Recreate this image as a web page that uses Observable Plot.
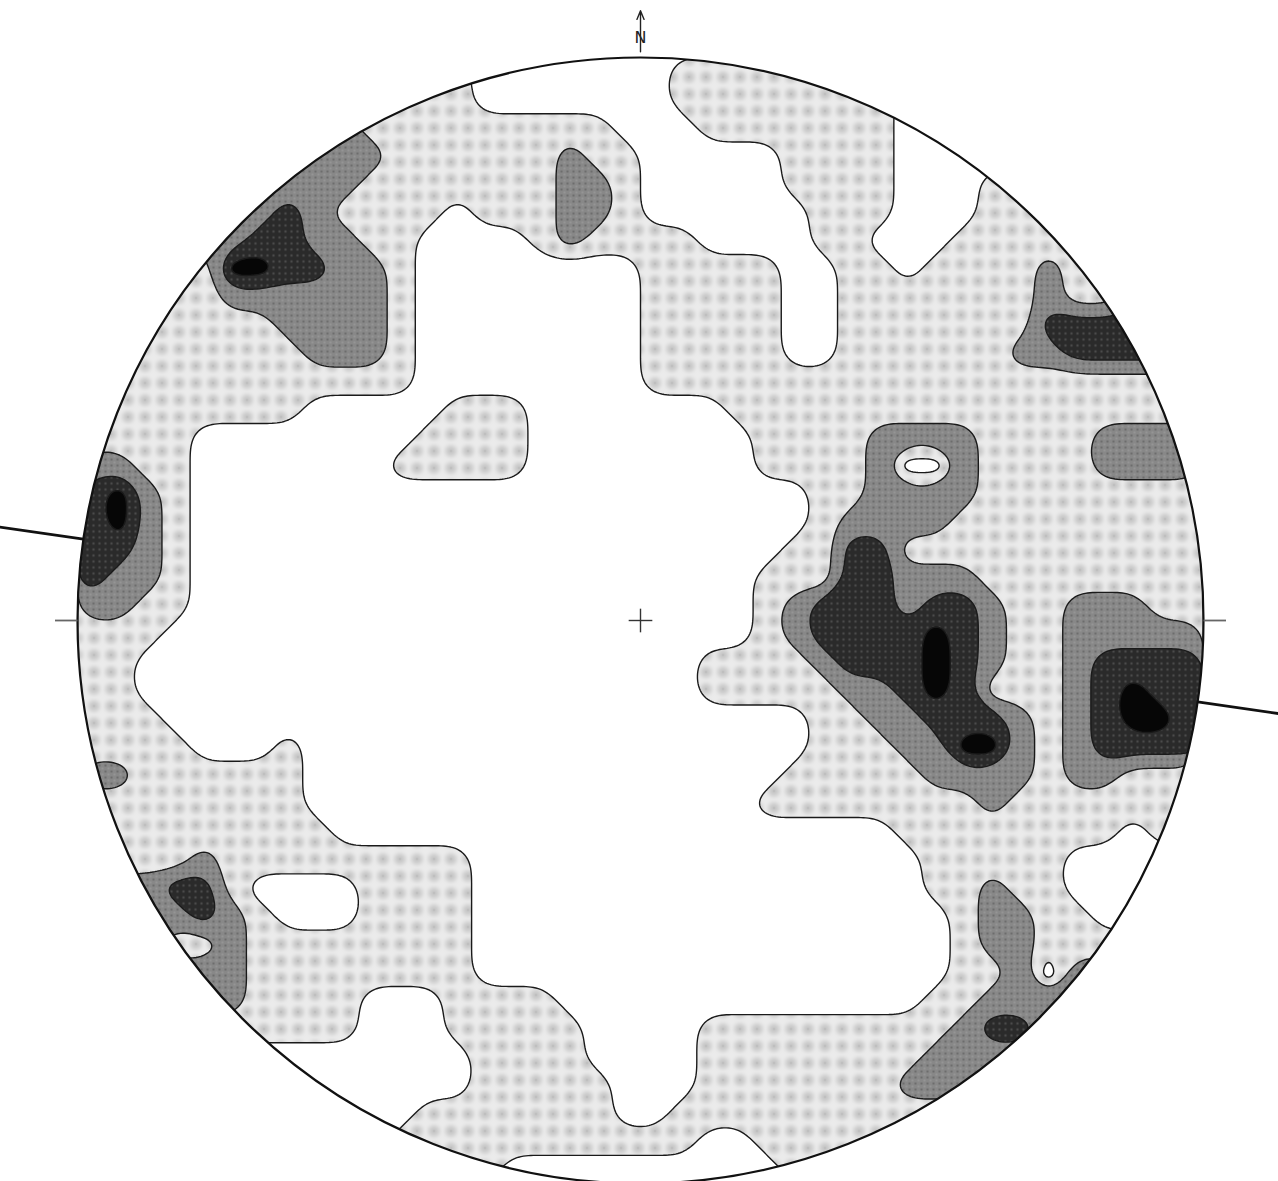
<!DOCTYPE html>
<html>
<head>
<meta charset="utf-8">
<script src="https://cdn.jsdelivr.net/npm/d3@7"></script>
<script src="https://cdn.jsdelivr.net/npm/@observablehq/plot@0.6"></script>
<style>
  html, body { margin: 0; padding: 0; background: #ffffff; }
  #chart { width: 1278px; height: 1181px; overflow: hidden; }
</style>
</head>
<body>
<div id="chart"></div>
<script>
// Pole-density grid (40 x 40 cells, row 0 = north edge).
// 0 = white (< lowest contour), 1 = light stipple, 2 = grey, 3 = dark, 4 = black.
const densityRows = [
  "1111111111 1111000000 0111111111 1111111111",
  "1111111111 1111000000 0111111110 0001111111",
  "1111111122 1111111110 0011111110 0000111111",
  "1111111222 2111111211 0000011110 0000111111",
  "1111112222 1111111221 0000011110 0011111111",
  "1111122321 1110111221 0000001110 0011111111",
  "1111223322 1100001211 1100001100 0111111111",
  "1111144332 2100000000 1111100110 1111211111",
  "1111122222 2100000000 1111100111 1111211222",
  "1111111222 2100000000 1111100111 1111333333",
  "1111111122 2100000000 1111100111 1112233333",
  "1111111111 1100000000 1111111111 1111111111",
  "1111111100 0001110000 0001111111 1111111111",
  "1111000000 0011110000 0000111122 2211112222",
  "2211000000 0111110000 0000111120 0211112222",
  "3421000000 0000000000 0000001122 2211111111",
  "3421000000 0000000000 0000001222 2111111111",
  "3321000000 0000000000 0000011331 1111111111",
  "3221000000 0000000000 0000111332 2211111111",
  "2211000000 0000000000 0000123332 3321122211",
  "1110000000 0000000000 0000123333 4321122222",
  "1100000000 0000000000 0011112333 4321123333",
  "1100000000 0000000000 0011111223 4311123433",
  "1110000000 0000000000 0000001122 3332123443",
  "1111000100 0000000000 0000001112 2442123333",
  "2211111100 0000000000 0000011111 2222122111",
  "1111111100 0000000000 0000111111 1121111111",
  "1111111110 0000000000 0000000001 1111111011",
  "1111211111 1111000000 0000000000 1111100000",
  "2223310000 1111000000 0000000000 1121100000",
  "2222321000 1111000000 0000000000 0122110000",
  "2221121111 1111000000 0000000000 0122111111",
  "2222221111 1111000000 0000000000 0112022222",
  "2222221111 0001111000 0000000000 1122222222",
  "1111111111 0001111100 0011111111 1233222222",
  "0000000000 0000111100 0011111111 2222222222",
  "0000000000 0000111110 0011111112 2222222222",
  "0000000000 0011111110 0111111111 1111111111",
  "0000000000 0111111111 1100111111 1111111111",
  "1111111111 1111100000 0000011111 1111111111"
];
const contourLevels = [0.5, 1.5, 2.5, 3.5];
const levelFills = ["url(#pat-light)", "url(#pat-mid)", "url(#pat-dark)", "#060606"];

// Annotations in net units (radius 1 = primitive circle), azimuth clockwise from north.
const netCentre = [{az: 0, r: 0}];
const centreCross = [{az: 90, r: 0.021}, {az: 0, r: 0.021}];
const eastWestTicks = [{az: 90, r0: 1.0, r1: 1.04}, {az: 270, r0: 1.0, r1: 1.04}];
const foliationTrace = [{az: 98.3, r0: 1.0, r1: 1.17}, {az: 278.3, r0: 1.0, r1: 1.15}];
const northArrow = [{az: 0, r0: 1.01, r1: 1.083}];
const northLabel = [{az: 0, r: 1.034, text: "N"}];

// Layout
const W = 1278, H = 1181, ML = 77, MR = 75, MT = 57, MB = 0;
const N = 40;
const px = (W - ML - MR) / N;
const yMax = (H - MT - MB) / px;
const C = N / 2, R = N / 2;
const gx = (az, r) => C + R * r * Math.sin(az * Math.PI / 180);
const gy = (az, r) => C - R * r * Math.cos(az * Math.PI / 180);

const values = densityRows
  .map(r => r.replace(/\s/g, ""))
  .flatMap(r => Array.from(r, Number));

const contourMarks = contourLevels.map((t, i) =>
  Plot.contour(values, {
    width: N, height: N, x1: 0, y1: 0, x2: N, y2: N,
    thresholds: [t],
    fill: levelFills[i],
    stroke: "#1a1a1a",
    strokeWidth: 1.4
  })
);

const plot = Plot.plot({
  width: W, height: H,
  marginLeft: ML, marginRight: MR, marginTop: MT, marginBottom: MB,
  x: {domain: [0, N], axis: null},
  y: {domain: [0, yMax], reverse: true, axis: null},
  style: {background: "#ffffff", overflow: "visible"},
  marks: [
    ...contourMarks,
    Plot.dot(netCentre, {x: d => gx(d.az, d.r), y: d => gy(d.az, d.r), r: R * px, fill: "none", stroke: "#111", strokeWidth: 2.2}),
    Plot.link(centreCross, {x1: d => gx(d.az, -d.r), y1: d => gy(d.az, -d.r), x2: d => gx(d.az, d.r), y2: d => gy(d.az, d.r), stroke: "#333", strokeWidth: 1.4}),
    Plot.link(eastWestTicks, {x1: d => gx(d.az, d.r0), y1: d => gy(d.az, d.r0), x2: d => gx(d.az, d.r1), y2: d => gy(d.az, d.r1), stroke: "#666", strokeWidth: 1.8}),
    Plot.link(foliationTrace, {x1: d => gx(d.az, d.r0), y1: d => gy(d.az, d.r0), x2: d => gx(d.az, d.r1), y2: d => gy(d.az, d.r1), stroke: "#111", strokeWidth: 2.8}),
    Plot.arrow(northArrow, {x1: d => gx(d.az, d.r0), y1: d => gy(d.az, d.r0), x2: d => gx(d.az, d.r1), y2: d => gy(d.az, d.r1), stroke: "#222", strokeWidth: 1.4, headLength: 10, headAngle: 45, insetStart: 0, insetEnd: 0}),
    Plot.text(northLabel, {x: d => gx(d.az, d.r), y: d => gy(d.az, d.r), text: "text", fontSize: 16, fontFamily: "DejaVu Sans, sans-serif", fill: "#222"})
  ]
});

// Patterns and circular clip
const svgNS = "http://www.w3.org/2000/svg";
const svg = plot.tagName.toLowerCase() === "svg" ? plot : plot.querySelector("svg");
const xs = plot.scale("x"), ys = plot.scale("y");
const cxp = xs.apply(C), cyp = ys.apply(C), rp = xs.apply(C + R) - xs.apply(C);
const defs = document.createElementNS(svgNS, "defs");
defs.innerHTML = `
  <filter id="soft" x="-50%" y="-50%" width="200%" height="200%"><feGaussianBlur stdDeviation="2.2"/></filter>
  <pattern id="pat-light" patternUnits="userSpaceOnUse" width="17" height="17">
    <rect width="17" height="17" fill="#ebebeb"/>
    <circle cx="8.5" cy="8.5" r="5.6" fill="#c6c6c6" filter="url(#soft)"/>
    <circle cx="8.5" cy="8.5" r="0.9" fill="#b4b4b4"/>
  </pattern>
  <pattern id="pat-mid" patternUnits="userSpaceOnUse" width="6" height="6">
    <rect width="6" height="6" fill="#888888"/>
    <circle cx="3" cy="3" r="1.1" fill="#666666"/>
    <circle cx="0" cy="0" r="0.8" fill="#a6a6a6"/><circle cx="6" cy="0" r="0.8" fill="#a6a6a6"/>
    <circle cx="0" cy="6" r="0.8" fill="#a6a6a6"/><circle cx="6" cy="6" r="0.8" fill="#a6a6a6"/>
  </pattern>
  <pattern id="pat-dark" patternUnits="userSpaceOnUse" width="6" height="6">
    <rect width="6" height="6" fill="#2a2a2a"/>
    <circle cx="3" cy="3" r="1.2" fill="#4c4c4c"/>
  </pattern>
  <clipPath id="net-clip" clipPathUnits="userSpaceOnUse">
    <circle cx="${cxp}" cy="${cyp}" r="${rp}"/>
  </clipPath>`;
svg.insertBefore(defs, svg.firstChild);

// Round the marching-squares outlines: corner cutting, uniform resampling, moving average.
function chaikin(pts, iterations) {
  for (let k = 0; k < iterations; k++) {
    const out = [];
    for (let j = 0; j < pts.length; j++) {
      const p = pts[j], q = pts[(j + 1) % pts.length];
      out.push([0.75 * p[0] + 0.25 * q[0], 0.75 * p[1] + 0.25 * q[1]]);
      out.push([0.25 * p[0] + 0.75 * q[0], 0.25 * p[1] + 0.75 * q[1]]);
    }
    pts = out;
  }
  return pts;
}
function resample(pts, step) {
  const n = pts.length, segs = [];
  let total = 0;
  for (let j = 0; j < n; j++) {
    const p = pts[j], q = pts[(j + 1) % n];
    const L = Math.hypot(q[0] - p[0], q[1] - p[1]);
    segs.push(L); total += L;
  }
  const m = Math.max(8, Math.round(total / step));
  const ds = total / m, out = [];
  let j = 0, acc = 0;
  for (let k = 0; k < m; k++) {
    const s = k * ds;
    while (j < n - 1 && acc + segs[j] < s) { acc += segs[j]; j++; }
    const p = pts[j], q = pts[(j + 1) % n];
    const t = segs[j] > 0 ? Math.min(1, (s - acc) / segs[j]) : 0;
    out.push([p[0] + (q[0] - p[0]) * t, p[1] + (q[1] - p[1]) * t]);
  }
  return out;
}
function movingAverage(pts, h) {
  const n = pts.length, out = [];
  for (let k = 0; k < n; k++) {
    let sx = 0, sy = 0;
    for (let o = -h; o <= h; o++) { const p = pts[(k + o + n) % n]; sx += p[0]; sy += p[1]; }
    out.push([sx / (2 * h + 1), sy / (2 * h + 1)]);
  }
  return out;
}
function smoothRings(d) {
  const tokens = d.match(/[MLZmlz]|-?\d*\.?\d+(?:e[-+]?\d+)?/g) || [];
  const rings = [];
  let cur = null, i = 0;
  while (i < tokens.length) {
    const t = tokens[i];
    if (t === "M" || t === "m") { cur = [[+tokens[i + 1], +tokens[i + 2]]]; rings.push(cur); i += 3; }
    else if (t === "L" || t === "l") { cur.push([+tokens[i + 1], +tokens[i + 2]]); i += 3; }
    else if (t === "Z" || t === "z") { i += 1; }
    else { if (cur) cur.push([+tokens[i], +tokens[i + 1]]); i += 2; }
  }
  return rings.map(ring => {
    let pts = ring.slice();
    const a = pts[0], b = pts[pts.length - 1];
    if (pts.length > 1 && Math.abs(a[0] - b[0]) < 1e-6 && Math.abs(a[1] - b[1]) < 1e-6) pts.pop();
    if (pts.length < 3) return "";
    pts = chaikin(pts, 2);
    pts = resample(pts, 2.5);
    const h = Math.max(1, Math.min(5, Math.floor(pts.length / 10)));
    pts = movingAverage(pts, h);
    return "M" + pts.map(p => p[0].toFixed(2) + "," + p[1].toFixed(2)).join("L") + "Z";
  }).join("");
}

svg.querySelectorAll('g[aria-label="contour"]').forEach(g => {
  g.setAttribute("clip-path", "url(#net-clip)");
  g.querySelectorAll("path").forEach(p => {
    const d = p.getAttribute("d");
    if (d) p.setAttribute("d", smoothRings(d));
  });
});

document.getElementById("chart").appendChild(plot);
</script>
</body>
</html>
